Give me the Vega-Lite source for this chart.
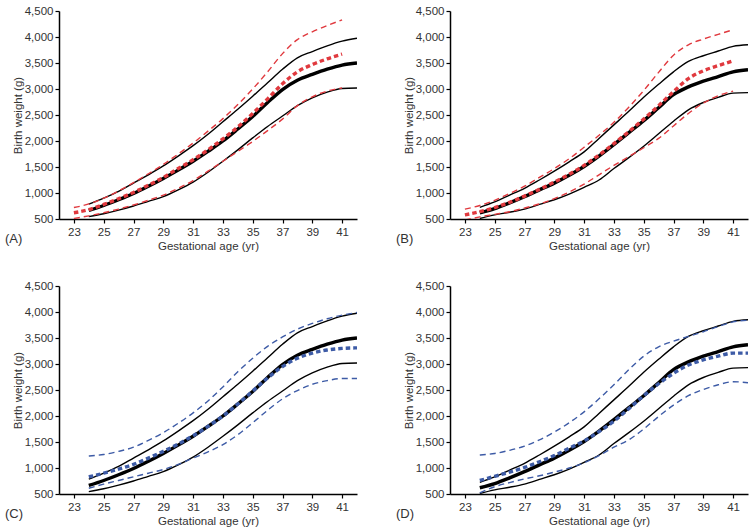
{
  "$schema": "https://vega.github.io/schema/vega-lite/v6.json",
  "description": "Birth weight percentile curves (10th, 50th, 90th) by gestational age, four panels.",
  "padding": {"left": 5, "top": 5, "right": 5, "bottom": 5},
  "background": "white",
  "datasets": {
    "ref1": [
      {"age": 24, "p10": 545, "p50": 665, "p90": 785},
      {"age": 25, "p10": 600, "p50": 760, "p90": 900},
      {"age": 26, "p10": 670, "p50": 870, "p90": 1030},
      {"age": 27, "p10": 750, "p50": 990, "p90": 1190},
      {"age": 28, "p10": 840, "p50": 1130, "p90": 1350},
      {"age": 29, "p10": 930, "p50": 1280, "p90": 1520},
      {"age": 30, "p10": 1060, "p50": 1440, "p90": 1710},
      {"age": 31, "p10": 1210, "p50": 1610, "p90": 1910},
      {"age": 32, "p10": 1400, "p50": 1800, "p90": 2130},
      {"age": 33, "p10": 1610, "p50": 2000, "p90": 2370},
      {"age": 34, "p10": 1830, "p50": 2230, "p90": 2610},
      {"age": 35, "p10": 2060, "p50": 2470, "p90": 2860},
      {"age": 36, "p10": 2280, "p50": 2740, "p90": 3120},
      {"age": 37, "p10": 2480, "p50": 2990, "p90": 3380},
      {"age": 38, "p10": 2680, "p50": 3170, "p90": 3600},
      {"age": 39, "p10": 2830, "p50": 3280, "p90": 3720},
      {"age": 40, "p10": 2940, "p50": 3380, "p90": 3830},
      {"age": 41, "p10": 3010, "p50": 3460, "p90": 3920},
      {"age": 42, "p10": 3020, "p50": 3500, "p90": 3975}
    ],
    "ref2": [
      {"age": 24, "p10": 510, "p50": 620, "p90": 725},
      {"age": 25, "p10": 580, "p50": 700, "p90": 830},
      {"age": 26, "p10": 630, "p50": 810, "p90": 960},
      {"age": 27, "p10": 690, "p50": 930, "p90": 1090},
      {"age": 28, "p10": 780, "p50": 1060, "p90": 1250},
      {"age": 29, "p10": 870, "p50": 1190, "p90": 1420},
      {"age": 30, "p10": 980, "p50": 1340, "p90": 1600},
      {"age": 31, "p10": 1110, "p50": 1510, "p90": 1790},
      {"age": 32, "p10": 1250, "p50": 1710, "p90": 2050},
      {"age": 33, "p10": 1470, "p50": 1930, "p90": 2310},
      {"age": 34, "p10": 1680, "p50": 2160, "p90": 2570},
      {"age": 35, "p10": 1900, "p50": 2390, "p90": 2840},
      {"age": 36, "p10": 2140, "p50": 2640, "p90": 3090},
      {"age": 37, "p10": 2380, "p50": 2890, "p90": 3330},
      {"age": 38, "p10": 2600, "p50": 3040, "p90": 3530},
      {"age": 39, "p10": 2740, "p50": 3150, "p90": 3640},
      {"age": 40, "p10": 2840, "p50": 3240, "p90": 3730},
      {"age": 41, "p10": 2920, "p50": 3330, "p90": 3820},
      {"age": 42, "p10": 2930, "p50": 3370, "p90": 3850}
    ],
    "cmpA": [
      {"age": 23, "p10": 510, "p50": 620, "p90": 720},
      {"age": 24, "p10": 560, "p50": 680, "p90": 790},
      {"age": 25, "p10": 620, "p50": 780, "p90": 900},
      {"age": 26, "p10": 690, "p50": 890, "p90": 1040},
      {"age": 27, "p10": 770, "p50": 1010, "p90": 1200},
      {"age": 28, "p10": 860, "p50": 1150, "p90": 1370},
      {"age": 29, "p10": 960, "p50": 1300, "p90": 1550},
      {"age": 30, "p10": 1090, "p50": 1470, "p90": 1750},
      {"age": 31, "p10": 1240, "p50": 1640, "p90": 1960},
      {"age": 32, "p10": 1420, "p50": 1830, "p90": 2190},
      {"age": 33, "p10": 1610, "p50": 2040, "p90": 2430},
      {"age": 34, "p10": 1800, "p50": 2270, "p90": 2700},
      {"age": 35, "p10": 1990, "p50": 2530, "p90": 3000},
      {"age": 36, "p10": 2200, "p50": 2810, "p90": 3330},
      {"age": 37, "p10": 2420, "p50": 3100, "p90": 3680},
      {"age": 38, "p10": 2680, "p50": 3330, "p90": 3950},
      {"age": 39, "p10": 2850, "p50": 3470, "p90": 4100},
      {"age": 40, "p10": 2960, "p50": 3580, "p90": 4220},
      {"age": 41, "p10": 3020, "p50": 3670, "p90": 4330}
    ],
    "cmpB": [
      {"age": 23, "p10": 480, "p50": 580, "p90": 690},
      {"age": 24, "p10": 540, "p50": 640, "p90": 760},
      {"age": 25, "p10": 590, "p50": 720, "p90": 860},
      {"age": 26, "p10": 640, "p50": 820, "p90": 990},
      {"age": 27, "p10": 710, "p50": 940, "p90": 1130},
      {"age": 28, "p10": 790, "p50": 1070, "p90": 1300},
      {"age": 29, "p10": 890, "p50": 1210, "p90": 1470},
      {"age": 30, "p10": 1020, "p50": 1360, "p90": 1660},
      {"age": 31, "p10": 1170, "p50": 1530, "p90": 1880},
      {"age": 32, "p10": 1350, "p50": 1730, "p90": 2110},
      {"age": 33, "p10": 1530, "p50": 1950, "p90": 2360},
      {"age": 34, "p10": 1700, "p50": 2180, "p90": 2650},
      {"age": 35, "p10": 1870, "p50": 2420, "p90": 2970},
      {"age": 36, "p10": 2050, "p50": 2680, "p90": 3320},
      {"age": 37, "p10": 2290, "p50": 2950, "p90": 3650},
      {"age": 38, "p10": 2530, "p50": 3200, "p90": 3850},
      {"age": 39, "p10": 2730, "p50": 3350, "p90": 3960},
      {"age": 40, "p10": 2870, "p50": 3450, "p90": 4050},
      {"age": 41, "p10": 2960, "p50": 3540, "p90": 4140}
    ],
    "cmpC": [
      {"age": 24, "p10": 610, "p50": 830, "p90": 1230},
      {"age": 25, "p10": 690, "p50": 900, "p90": 1260},
      {"age": 26, "p10": 760, "p50": 980, "p90": 1320},
      {"age": 27, "p10": 830, "p50": 1070, "p90": 1400},
      {"age": 28, "p10": 900, "p50": 1190, "p90": 1530},
      {"age": 29, "p10": 970, "p50": 1320, "p90": 1680},
      {"age": 30, "p10": 1070, "p50": 1460, "p90": 1860},
      {"age": 31, "p10": 1190, "p50": 1620, "p90": 2060},
      {"age": 32, "p10": 1310, "p50": 1800, "p90": 2290},
      {"age": 33, "p10": 1450, "p50": 2000, "p90": 2560},
      {"age": 34, "p10": 1640, "p50": 2230, "p90": 2850},
      {"age": 35, "p10": 1870, "p50": 2480, "p90": 3110},
      {"age": 36, "p10": 2110, "p50": 2730, "p90": 3340},
      {"age": 37, "p10": 2330, "p50": 2950, "p90": 3520},
      {"age": 38, "p10": 2490, "p50": 3110, "p90": 3670},
      {"age": 39, "p10": 2610, "p50": 3210, "p90": 3780},
      {"age": 40, "p10": 2680, "p50": 3270, "p90": 3870},
      {"age": 41, "p10": 2720, "p50": 3300, "p90": 3940},
      {"age": 42, "p10": 2720, "p50": 3310, "p90": 3990}
    ],
    "cmpD": [
      {"age": 24, "p10": 520, "p50": 760, "p90": 1250},
      {"age": 25, "p10": 640, "p50": 840, "p90": 1280},
      {"age": 26, "p10": 720, "p50": 920, "p90": 1340},
      {"age": 27, "p10": 790, "p50": 1010, "p90": 1420},
      {"age": 28, "p10": 850, "p50": 1120, "p90": 1540},
      {"age": 29, "p10": 920, "p50": 1240, "p90": 1690},
      {"age": 30, "p10": 1000, "p50": 1380, "p90": 1870},
      {"age": 31, "p10": 1100, "p50": 1520, "p90": 2080},
      {"age": 32, "p10": 1240, "p50": 1700, "p90": 2330},
      {"age": 33, "p10": 1400, "p50": 1900, "p90": 2600},
      {"age": 34, "p10": 1540, "p50": 2140, "p90": 2890},
      {"age": 35, "p10": 1750, "p50": 2390, "p90": 3150},
      {"age": 36, "p10": 1990, "p50": 2620, "p90": 3330},
      {"age": 37, "p10": 2210, "p50": 2820, "p90": 3440},
      {"age": 38, "p10": 2390, "p50": 2980, "p90": 3530},
      {"age": 39, "p10": 2510, "p50": 3080, "p90": 3620},
      {"age": 40, "p10": 2600, "p50": 3150, "p90": 3720},
      {"age": 41, "p10": 2660, "p50": 3210, "p90": 3810},
      {"age": 42, "p10": 2640, "p50": 3210, "p90": 3840}
    ]
  },
  "columns": 2,
  "spacing": {"column": 39, "row": 28},
  "concat": [
    {
      "width": 298, "height": 208,
      "title": {"text": "(A)"},
      "encoding": {
        "x": {"field": "age", "type": "quantitative", "title": "Gestational age (yr)",
              "scale": {"domain": [22, 42], "nice": false},
              "axis": {"values": [23, 25, 27, 29, 31, 33, 35, 37, 39, 41]}},
        "y": {"field": "wt", "type": "quantitative", "title": "Birth weight (g)",
              "scale": {"domain": [500, 4500], "nice": false},
              "axis": {"values": [500, 1000, 1500, 2000, 2500, 3000, 3500, 4000, 4500], "format": ",d"}},
        "detail": {"field": "pct", "type": "nominal"},
        "strokeWidth": {"field": "pct", "type": "nominal", "scale": {"type": "ordinal", "domain": ["p10", "p50", "p90"], "range": [1.4, 3.4, 1.4]}, "legend": null}
      },
      "layer": [
        {"data": {"name": "ref1"}, "transform": [{"fold": ["p10", "p50", "p90"], "as": ["pct", "wt"]}],
         "mark": {"type": "line", "color": "black", "interpolate": "monotone", "clip": true}},
        {"data": {"name": "cmpA"}, "transform": [{"fold": ["p10", "p50", "p90"], "as": ["pct", "wt"]}],
         "mark": {"type": "line", "color": "#e0393e", "interpolate": "monotone", "clip": true},
         "encoding": {"strokeDash": {"field": "pct", "type": "nominal", "scale": {"type": "ordinal", "domain": ["p10", "p50", "p90"], "range": [[6, 4], [4.5, 3], [6, 4]]}, "legend": null}}}
      ]
    },
    {
      "width": 298, "height": 208,
      "title": {"text": "(B)"},
      "encoding": {
        "x": {"field": "age", "type": "quantitative", "title": "Gestational age (yr)",
              "scale": {"domain": [22, 42], "nice": false},
              "axis": {"values": [23, 25, 27, 29, 31, 33, 35, 37, 39, 41]}},
        "y": {"field": "wt", "type": "quantitative", "title": "Birth weight (g)",
              "scale": {"domain": [500, 4500], "nice": false},
              "axis": {"values": [500, 1000, 1500, 2000, 2500, 3000, 3500, 4000, 4500], "format": ",d"}},
        "detail": {"field": "pct", "type": "nominal"},
        "strokeWidth": {"field": "pct", "type": "nominal", "scale": {"type": "ordinal", "domain": ["p10", "p50", "p90"], "range": [1.4, 3.4, 1.4]}, "legend": null}
      },
      "layer": [
        {"data": {"name": "ref2"}, "transform": [{"fold": ["p10", "p50", "p90"], "as": ["pct", "wt"]}],
         "mark": {"type": "line", "color": "black", "interpolate": "monotone", "clip": true}},
        {"data": {"name": "cmpB"}, "transform": [{"fold": ["p10", "p50", "p90"], "as": ["pct", "wt"]}],
         "mark": {"type": "line", "color": "#e0393e", "interpolate": "monotone", "clip": true},
         "encoding": {"strokeDash": {"field": "pct", "type": "nominal", "scale": {"type": "ordinal", "domain": ["p10", "p50", "p90"], "range": [[6, 4], [4.5, 3], [6, 4]]}, "legend": null}}}
      ]
    },
    {
      "width": 298, "height": 208,
      "title": {"text": "(C)"},
      "encoding": {
        "x": {"field": "age", "type": "quantitative", "title": "Gestational age (yr)",
              "scale": {"domain": [22, 42], "nice": false},
              "axis": {"values": [23, 25, 27, 29, 31, 33, 35, 37, 39, 41]}},
        "y": {"field": "wt", "type": "quantitative", "title": "Birth weight (g)",
              "scale": {"domain": [500, 4500], "nice": false},
              "axis": {"values": [500, 1000, 1500, 2000, 2500, 3000, 3500, 4000, 4500], "format": ",d"}},
        "detail": {"field": "pct", "type": "nominal"},
        "strokeWidth": {"field": "pct", "type": "nominal", "scale": {"type": "ordinal", "domain": ["p10", "p50", "p90"], "range": [1.4, 3.4, 1.4]}, "legend": null}
      },
      "layer": [
        {"data": {"name": "ref1"}, "transform": [{"fold": ["p10", "p50", "p90"], "as": ["pct", "wt"]}],
         "mark": {"type": "line", "color": "black", "interpolate": "monotone", "clip": true}},
        {"data": {"name": "cmpC"}, "transform": [{"fold": ["p10", "p50", "p90"], "as": ["pct", "wt"]}],
         "mark": {"type": "line", "color": "#3d5ba6", "interpolate": "monotone", "clip": true},
         "encoding": {"strokeDash": {"field": "pct", "type": "nominal", "scale": {"type": "ordinal", "domain": ["p10", "p50", "p90"], "range": [[6, 4], [4.5, 3], [6, 4]]}, "legend": null}}}
      ]
    },
    {
      "width": 298, "height": 208,
      "title": {"text": "(D)"},
      "encoding": {
        "x": {"field": "age", "type": "quantitative", "title": "Gestational age (yr)",
              "scale": {"domain": [22, 42], "nice": false},
              "axis": {"values": [23, 25, 27, 29, 31, 33, 35, 37, 39, 41]}},
        "y": {"field": "wt", "type": "quantitative", "title": "Birth weight (g)",
              "scale": {"domain": [500, 4500], "nice": false},
              "axis": {"values": [500, 1000, 1500, 2000, 2500, 3000, 3500, 4000, 4500], "format": ",d"}},
        "detail": {"field": "pct", "type": "nominal"},
        "strokeWidth": {"field": "pct", "type": "nominal", "scale": {"type": "ordinal", "domain": ["p10", "p50", "p90"], "range": [1.4, 3.4, 1.4]}, "legend": null}
      },
      "layer": [
        {"data": {"name": "ref2"}, "transform": [{"fold": ["p10", "p50", "p90"], "as": ["pct", "wt"]}],
         "mark": {"type": "line", "color": "black", "interpolate": "monotone", "clip": true}},
        {"data": {"name": "cmpD"}, "transform": [{"fold": ["p10", "p50", "p90"], "as": ["pct", "wt"]}],
         "mark": {"type": "line", "color": "#3d5ba6", "interpolate": "monotone", "clip": true},
         "encoding": {"strokeDash": {"field": "pct", "type": "nominal", "scale": {"type": "ordinal", "domain": ["p10", "p50", "p90"], "range": [[6, 4], [4.5, 3], [6, 4]]}, "legend": null}}}
      ]
    }
  ],
  "config": {
    "view": {"stroke": null},
    "axis": {
      "grid": false,
      "domainColor": "black",
      "domainWidth": 1.5,
      "tickColor": "black",
      "tickWidth": 1.2,
      "tickSize": 4,
      "labelPadding": 2,
      "labelFont": "Liberation Sans",
      "labelFontSize": 11.5,
      "labelColor": "#333333",
      "titleFont": "Liberation Sans",
      "titleFontSize": 11.5,
      "titleFontWeight": "normal",
      "titleColor": "#333333",
      "titlePadding": 3
    },
    "axisX": {"labelPadding": 3},
    "axisY": {"titlePadding": 1},
    "title": {
      "orient": "bottom",
      "anchor": "start",
      "frame": "group",
      "dx": -54,
      "dy": -23,
      "font": "Liberation Sans",
      "fontSize": 13,
      "fontWeight": "normal",
      "color": "#333333"
    }
  }
}
